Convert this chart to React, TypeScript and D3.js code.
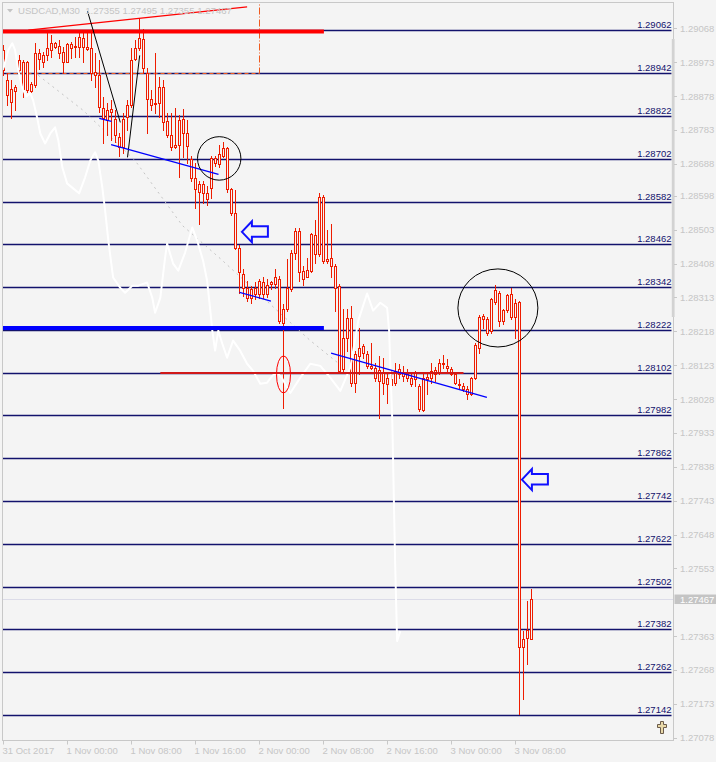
import { useEffect, useRef } from "react";
import * as d3 from "d3";

// OHLC of USDCAD M30, bar 0 = 31 Oct 16:00
const opens = [
  1.29006, 1.28922, 1.2886, 1.28891, 1.2895, 1.28973, 1.28973, 1.28891, 1.28908, 1.28998,
  1.28973, 1.28992, 1.29006, 1.29026, 1.29018, 1.29001, 1.28973, 1.29023, 1.29018, 1.29015,
  1.2904, 1.29015, 1.29012, 1.28945, 1.28936, 1.28844, 1.2881, 1.28841, 1.28813, 1.28762,
  1.28734, 1.28818, 1.28852, 1.28981, 1.29012, 1.29037, 1.28942, 1.28869, 1.28855, 1.28858,
  1.28903, 1.28807, 1.2877, 1.28734, 1.2874, 1.28813, 1.28773, 1.287, 1.28647, 1.28608,
  1.2863, 1.28605, 1.28619, 1.28703, 1.28686, 1.28711, 1.28731, 1.28616, 1.28549, 1.28453,
  1.2838, 1.2834, 1.28312, 1.2834, 1.28324, 1.28355, 1.28324, 1.28352, 1.28352, 1.28366,
  1.28242, 1.28281, 1.28338, 1.28439, 1.28498, 1.28388, 1.28371, 1.28388, 1.28487, 1.28436,
  1.28594, 1.28414, 1.28425, 1.28402, 1.28346, 1.28113, 1.282, 1.28256, 1.28074, 1.28149,
  1.28177, 1.28155, 1.28121, 1.28116, 1.28079, 1.28102, 1.28071, 1.28085, 1.28074, 1.28113,
  1.28102, 1.28099, 1.28088, 1.28085, 1.28065, 1.27998, 1.28085, 1.28088, 1.28099, 1.28102,
  1.2813, 1.28121, 1.28113, 1.28099, 1.28071, 1.28065, 1.28057, 1.28043, 1.28088, 1.28172,
  1.28253, 1.28253, 1.2822, 1.28301, 1.28326, 1.28248, 1.28279, 1.28324, 1.28259, 1.28301,
  1.27332, 1.2738, 1.27355,
];
const highs = [
  1.2902, 1.28942, 1.28922, 1.28908, 1.28992, 1.28978, 1.28976, 1.28917, 1.29026, 1.29009,
  1.29001, 1.29054, 1.29049, 1.29029, 1.29035, 1.29015, 1.29026, 1.29029, 1.29043, 1.29057,
  1.29054, 1.29054, 1.29063, 1.28998, 1.28978, 1.28874, 1.28858, 1.28866, 1.28838, 1.28773,
  1.2883, 1.28866, 1.29012, 1.29035, 1.29096, 1.29065, 1.28956, 1.28894, 1.28998, 1.28931,
  1.28922, 1.2883, 1.2883, 1.28844, 1.28824, 1.28841, 1.2881, 1.28711, 1.28689, 1.28641,
  1.28641, 1.28627, 1.28711, 1.28711, 1.2874, 1.28748, 1.28734, 1.28619, 1.28613, 1.28459,
  1.28394, 1.2836, 1.28346, 1.28355, 1.28366, 1.28369, 1.28366, 1.2836, 1.28394, 1.28374,
  1.28296, 1.28422, 1.28445, 1.28509, 1.28509, 1.28402, 1.28425, 1.28495, 1.28529, 1.28605,
  1.28599, 1.28501, 1.2852, 1.28408, 1.28352, 1.28281, 1.28281, 1.2829, 1.28163, 1.28228,
  1.28183, 1.28163, 1.28186, 1.2813, 1.28149, 1.28144, 1.28102, 1.28107, 1.2813, 1.28127,
  1.28121, 1.28113, 1.28102, 1.28107, 1.28071, 1.28102, 1.28102, 1.2813, 1.28119, 1.28141,
  1.28152, 1.28141, 1.28119, 1.28102, 1.28085, 1.28074, 1.28065, 1.2809, 1.28186, 1.28265,
  1.28267, 1.28259, 1.28312, 1.28349, 1.28332, 1.28281, 1.28324, 1.2834, 1.2831, 1.28304,
  1.27377, 1.27461, 1.27495,
];
const lows = [
  1.28936, 1.28852, 1.28815, 1.28838, 1.28936, 1.28874, 1.28889, 1.28889, 1.28903, 1.28953,
  1.28959, 1.28978, 1.28987, 1.29012, 1.28984, 1.28942, 1.28973, 1.28984, 1.28987, 1.28987,
  1.28973, 1.29006, 1.28922, 1.28903, 1.28832, 1.28745, 1.28768, 1.28754, 1.28748, 1.28709,
  1.28717, 1.28782, 1.28846, 1.28978, 1.29006, 1.28942, 1.28773, 1.28838, 1.2883, 1.28818,
  1.28782, 1.28762, 1.28726, 1.28731, 1.2865, 1.28706, 1.28689, 1.28641, 1.28565, 1.2852,
  1.28579, 1.28571, 1.28591, 1.28683, 1.28678, 1.28706, 1.28608, 1.28543, 1.2845, 1.28326,
  1.28318, 1.28304, 1.28298, 1.2831, 1.28312, 1.28312, 1.28315, 1.28338, 1.2834, 1.28242,
  1.28003, 1.28276, 1.28332, 1.28422, 1.2836, 1.28349, 1.28369, 1.28383, 1.28411, 1.2843,
  1.28411, 1.28411, 1.28369, 1.28276, 1.28102, 1.28107, 1.28163, 1.28065, 1.28048, 1.28099,
  1.28144, 1.28116, 1.28113, 1.28079, 1.27975, 1.28043, 1.28017, 1.28037, 1.28068, 1.28088,
  1.28079, 1.28079, 1.28065, 1.28065, 1.27995, 1.27995, 1.28043, 1.28074, 1.28079, 1.28099,
  1.28116, 1.28107, 1.28096, 1.28071, 1.2806, 1.28051, 1.28029, 1.2804, 1.28085, 1.28158,
  1.28228, 1.28209, 1.28214, 1.28296, 1.28234, 1.28239, 1.28273, 1.28253, 1.282, 1.27144,
  1.27186, 1.27284, 1.27355,
];
const closes = [
  1.2895, 1.2888, 1.28897, 1.28903, 1.28978, 1.28897, 1.28894, 1.28911, 1.28998, 1.28981,
  1.28992, 1.29012, 1.29026, 1.29015, 1.28998, 1.28973, 1.29023, 1.29012, 1.29015, 1.29043,
  1.29015, 1.29009, 1.28942, 1.28936, 1.28846, 1.28815, 1.28838, 1.28832, 1.28768, 1.28734,
  1.28813, 1.28852, 1.28978, 1.29012, 1.2904, 1.28956, 1.28869, 1.28852, 1.28858, 1.28903,
  1.28804, 1.2877, 1.28734, 1.28742, 1.2881, 1.28773, 1.28737, 1.28647, 1.28616, 1.2863,
  1.28605, 1.28588, 1.28703, 1.28689, 1.28714, 1.28731, 1.28616, 1.28549, 1.28453, 1.28383,
  1.2834, 1.28312, 1.28338, 1.28324, 1.2836, 1.28324, 1.28349, 1.28355, 1.28369, 1.28248,
  1.28281, 1.2834, 1.28439, 1.28498, 1.28385, 1.28366, 1.28391, 1.28492, 1.28436, 1.28594,
  1.28416, 1.28422, 1.28402, 1.2834, 1.28107, 1.282, 1.28256, 1.28074, 1.28155, 1.28172,
  1.28158, 1.28121, 1.28116, 1.28088, 1.2811, 1.28074, 1.28088, 1.28068, 1.28107, 1.28099,
  1.28093, 1.28088, 1.28071, 1.28102, 1.28, 1.28088, 1.2809, 1.28107, 1.2811, 1.2813,
  1.28127, 1.28116, 1.28099, 1.28074, 1.28068, 1.28057, 1.28043, 1.28088, 1.2818, 1.28259,
  1.28262, 1.28214, 1.2831, 1.28335, 1.28248, 1.28279, 1.28321, 1.28259, 1.28298, 1.27332,
  1.27354, 1.27357, 1.27467,
];

const infoText = "USDCAD,M30  1.27355 1.27495 1.27355 1.27467";
const currentPrice = 1.27467;

const timeLabels = [
  "31 Oct 2017", "1 Nov 00:00", "1 Nov 08:00", "1 Nov 16:00", "2 Nov 00:00",
  "2 Nov 08:00", "2 Nov 16:00", "3 Nov 00:00", "3 Nov 08:00",
];
const timeLabelBars = [0, 16, 32, 48, 64, 80, 96, 112, 128];

const priceTicks = [
  1.29068, 1.28973, 1.28878, 1.28783, 1.28688, 1.28598, 1.28503, 1.28408, 1.28313, 1.28218,
  1.28123, 1.28028, 1.27933, 1.27838, 1.27743, 1.27648, 1.27553, 1.27363, 1.27268, 1.27173,
  1.27078,
];

// horizontal levels drawn on the chart
const levels = [
  1.29062, 1.28942, 1.28822, 1.28702, 1.28582, 1.28462, 1.28342, 1.28222, 1.28102, 1.27982,
  1.27862, 1.27742, 1.27622, 1.27502, 1.27382, 1.27262, 1.27142,
];

// white indicator line (bar, value)
const whiteBars = [
  0, 1.2, 2.2, 2.9, 3.7, 4.7, 5.7, 6.7, 7.4, 8.4, 9.2, 10.4, 11.7, 12.9, 13.7, 14.7, 15.9, 17.4,
  18.9, 20.4, 21.7, 22.9, 23.7, 24.7, 25.4, 26.2, 27.4, 29.2, 30.4, 32.2, 33.7, 35.9, 37.2, 37.9,
  39.2, 40.4, 40.9, 42.4, 43.7, 45.4, 47.2, 48.4, 49.9, 50.9, 51.7, 52.2, 52.9, 53.7, 54.7, 55.9,
  57.4, 59.2, 60.9, 62.4, 64.2, 65.9, 67.2, 68.4, 69.7, 71.7, 74.2, 76.7, 79.2, 81.7, 84.2, 86.7,
  88.7, 90.9, 92.4, 94.2, 95.9, 96.4, 97.2, 97.9, 98.4, 99.2,
];
const whiteValues = [
  1.28956, 1.29007, 1.29026, 1.29007, 1.2895, 1.289, 1.28877, 1.28886, 1.28866, 1.28818,
  1.28773, 1.28745, 1.28773, 1.2879, 1.28754, 1.28678, 1.28633, 1.28619, 1.28605, 1.2865,
  1.28697, 1.2872, 1.28697, 1.28622, 1.28557, 1.28473, 1.28369, 1.2834, 1.28326, 1.28346,
  1.28346, 1.28355, 1.28312, 1.2827, 1.28312, 1.28425, 1.28464, 1.28408, 1.28388, 1.28439,
  1.28509, 1.28473, 1.28416, 1.2836, 1.28276, 1.2822, 1.28164, 1.2822, 1.28183, 1.28144,
  1.28192, 1.28163, 1.28127, 1.28107, 1.28071, 1.28074, 1.28093, 1.28102, 1.28085, 1.28045,
  1.28088, 1.28127, 1.28121, 1.28088, 1.28051, 1.28116, 1.28248, 1.28324, 1.28276, 1.28298,
  1.28284, 1.2822, 1.27967, 1.27573, 1.27349, 1.27377,
];

// gray dotted line (bar, value)
const grayBars = [8.7, 19.9, 32.9, 44.7, 54.2, 70.4, 76.7, 84.2];
const grayValues = [1.28936, 1.28838, 1.28697, 1.28515, 1.28422, 1.28256, 1.28192, 1.28124];

// trend lines: [bar1, price1, bar2, price2]
const redTrend = [[6.2, 1.29063, 60.9, 1.29128]];
const blackTrends = [
  [21, 1.29116, 29.2, 1.28804],
  [31, 1.28706, 34.05, 1.28992],
];
const blueTrends = [
  [23.95, 1.28815, 27, 1.28807],
  [26.9, 1.28742, 53.75, 1.28658],
  [59, 1.28327, 66.85, 1.28303],
  [81.9, 1.28157, 120.85, 1.28033],
];
// horizontal segments: [bar1, bar2, price]
const thickRed = [-1, 80.1, 1.29059];
const thickBlue = [-1, 80.1, 1.28227];
const darkRed = [39.2, 115, 1.28101];
const orangeBox = [-1, 63.9, 1.2916, 1.28942];
// ellipses: [bar1, bar2, price1, price2]
const redEllipse = [68.25, 71.75, 1.28149, 1.28045];
const blackCircles = [
  [48.5, 59.35, 1.28764, 1.28642],
  [113.6, 133.6, 1.28393, 1.28174],
];
// arrow tips: [bar, price]
const arrows = [
  [59.6, 1.28497],
  [129.6, 1.27802],
];

const BG = "#f4f4f4";
const RED = "#ee1c00";
const NAVY = "#12126c";
const AXIS_TXT = "#c6c6c6";
const FONT = "'Liberation Sans', Arial, sans-serif";

export default function App() {
  const svgRef = useRef<SVGSVGElement>(null);

  useEffect(() => {
    if (!svgRef.current) return;
    const svg = d3.select(svgRef.current);
    svg.selectAll("*").remove();

    const plot = { left: 2.5, top: 2.5, right: 673.5, bottom: 740.5 };
    const x = d3.scaleLinear().domain([0, 132]).range([3.5, 531.5]);
    const y = d3.scaleLinear().domain([1.27078, 1.29068]).range([737.7, 28.3]);
    const snap = (v: number) => Math.round(v) + 0.5;

    svg.append("rect").attr("width", 716).attr("height", 762).attr("fill", BG);

    svg
      .append("defs")
      .append("clipPath")
      .attr("id", "plotClip")
      .append("rect")
      .attr("x", plot.left)
      .attr("y", plot.top)
      .attr("width", plot.right - plot.left)
      .attr("height", plot.bottom - plot.top);

    const g = svg.append("g").attr("clip-path", "url(#plotClip)");

    // current price line
    g.append("line")
      .attr("x1", plot.left)
      .attr("x2", plot.right)
      .attr("y1", snap(y(currentPrice)))
      .attr("y2", snap(y(currentPrice)))
      .attr("stroke", "#dcdce8")
      .attr("stroke-width", 1);

    // horizontal levels
    g.selectAll("line.level")
      .data(levels)
      .join("line")
      .attr("class", "level")
      .attr("x1", plot.left)
      .attr("x2", 671.5)
      .attr("y1", (d) => snap(y(d)))
      .attr("y2", (d) => snap(y(d)))
      .attr("stroke", NAVY)
      .attr("stroke-width", 1.4);

    g.selectAll("text.level")
      .data(levels)
      .join("text")
      .attr("class", "level")
      .attr("x", 671.5)
      .attr("y", (d) => snap(y(d)) - 2.5)
      .attr("text-anchor", "end")
      .attr("font-family", FONT)
      .attr("font-size", "9.5px")
      .attr("fill", NAVY)
      .text((d) => d.toFixed(5));

    // orange dashed box edges
    const [ob1, ob2, op1, op2] = orangeBox;
    g.append("line")
      .attr("x1", x(ob1))
      .attr("x2", snap(x(ob2)))
      .attr("y1", snap(y(op2)))
      .attr("y2", snap(y(op2)))
      .attr("stroke", "#f05a1e")
      .attr("stroke-width", 1.2)
      .attr("stroke-dasharray", "4,3");
    g.append("line")
      .attr("x1", snap(x(ob2)))
      .attr("x2", snap(x(ob2)))
      .attr("y1", y(op1))
      .attr("y2", snap(y(op2)))
      .attr("stroke", "#f05a1e")
      .attr("stroke-width", 1)
      .attr("stroke-dasharray", "7,2,1,2");

    // gray dotted line
    const grayLine = d3
      .line<number>()
      .x((_, i) => x(grayBars[i]))
      .y((d) => y(d));
    g.append("path")
      .attr("d", grayLine(grayValues))
      .attr("fill", "none")
      .attr("stroke", "#c4c4c4")
      .attr("stroke-width", 1)
      .attr("stroke-dasharray", "2,4");

    // candles
    const bars = d3.range(opens.length);
    const candles = g.append("g").attr("shape-rendering", "crispEdges");
    candles
      .selectAll("line")
      .data(bars)
      .join("line")
      .attr("x1", (i) => x(i))
      .attr("x2", (i) => x(i))
      .attr("y1", (i) => Math.round(y(highs[i])))
      .attr("y2", (i) => Math.round(y(lows[i])) + 1)
      .attr("stroke", RED)
      .attr("stroke-width", 1);
    candles
      .selectAll("path")
      .data(bars)
      .join("path")
      .attr("d", (i) => {
        const cx = x(i);
        const t = snap(y(Math.max(opens[i], closes[i])));
        const b = snap(y(Math.min(opens[i], closes[i])));
        return `M${cx - 1},${t}H${cx + 1}V${b}H${cx - 1}Z`;
      })
      .attr("fill", BG)
      .attr("stroke", RED)
      .attr("stroke-width", 1);

    // white indicator
    const whiteLine = d3
      .line<number>()
      .x((_, i) => x(whiteBars[i]))
      .y((d) => y(d));
    g.append("path")
      .attr("d", whiteLine(whiteValues))
      .attr("fill", "none")
      .attr("stroke", "#ffffff")
      .attr("stroke-width", 2)
      .attr("stroke-linejoin", "round");

    // horizontal segments
    const seg = (s: number[], color: string, w: number) =>
      g
        .append("line")
        .attr("x1", x(s[0]))
        .attr("x2", x(s[1]))
        .attr("y1", y(s[2]))
        .attr("y2", y(s[2]))
        .attr("stroke", color)
        .attr("stroke-width", w);
    seg(thickRed, "#ff0000", 4);
    seg(thickBlue, "#0000ff", 4);
    seg(darkRed, "#d01818", 2);

    // trend lines
    const trend = (data: number[][], color: string, w: number) =>
      g
        .append("g")
        .selectAll("line")
        .data(data)
        .join("line")
        .attr("x1", (d) => x(d[0]))
        .attr("y1", (d) => y(d[1]))
        .attr("x2", (d) => x(d[2]))
        .attr("y2", (d) => y(d[3]))
        .attr("stroke", color)
        .attr("stroke-width", w);
    trend(redTrend, "#ff0000", 1.3);
    trend(blackTrends, "#000000", 1);
    trend(blueTrends, "#0000ff", 1.3);

    // ellipses
    const ell = (e: number[], color: string) =>
      g
        .append("ellipse")
        .attr("cx", (x(e[0]) + x(e[1])) / 2)
        .attr("cy", (y(e[2]) + y(e[3])) / 2)
        .attr("rx", Math.abs(x(e[1]) - x(e[0])) / 2)
        .attr("ry", Math.abs(y(e[3]) - y(e[2])) / 2)
        .attr("fill", "none")
        .attr("stroke", color)
        .attr("stroke-width", 1);
    ell(redEllipse, "#ff0000");
    blackCircles.forEach((c) => ell(c, "#000000"));

    // arrows (fixed size icons)
    const arrowShape = "M0,0L10,-10.5L10,-5.5L26,-5.5L26,5L10,5L10,10.5Z";
    g.selectAll("path.arrow")
      .data(arrows)
      .join("path")
      .attr("class", "arrow")
      .attr("d", arrowShape)
      .attr("transform", (d) => `translate(${x(d[0])},${y(d[1])})`)
      .attr("fill", "none")
      .attr("stroke", "#1010ff")
      .attr("stroke-width", 2)
      .attr("stroke-linejoin", "miter");

    // frame
    svg
      .append("path")
      .attr(
        "d",
        `M${plot.left},${plot.bottom}V${plot.top}H${plot.right}V${plot.bottom}H${plot.left}`
      )
      .attr("fill", "none")
      .attr("stroke", "#c8c8c8")
      .attr("stroke-width", 1)
      .attr("shape-rendering", "crispEdges");

    // scale marker on the price axis
    svg
      .append("rect")
      .attr("x", 671.8)
      .attr("y", 39)
      .attr("width", 2.8)
      .attr("height", 278)
      .attr("fill", "#d2d2d2");

    // price axis
    svg
      .append("g")
      .selectAll("line")
      .data(priceTicks)
      .join("line")
      .attr("x1", 674)
      .attr("x2", 677)
      .attr("y1", (d) => snap(y(d)))
      .attr("y2", (d) => snap(y(d)))
      .attr("stroke", "#c8c8c8");
    svg
      .append("g")
      .selectAll("text")
      .data(priceTicks)
      .join("text")
      .attr("x", 680)
      .attr("y", (d) => y(d) + 3.5)
      .attr("font-family", FONT)
      .attr("font-size", "9.5px")
      .attr("fill", AXIS_TXT)
      .text((d) => d.toFixed(5));

    // current price box
    svg
      .append("rect")
      .attr("x", 674.5)
      .attr("y", y(currentPrice) - 4.5)
      .attr("width", 42)
      .attr("height", 9.5)
      .attr("fill", "#c4c4c4");
    svg
      .append("text")
      .attr("x", 680)
      .attr("y", y(currentPrice) + 3.6)
      .attr("font-family", FONT)
      .attr("font-size", "9.5px")
      .attr("fill", "#ffffff")
      .text(currentPrice.toFixed(5));

    // time axis
    svg
      .append("g")
      .selectAll("line")
      .data(timeLabelBars)
      .join("line")
      .attr("x1", (d) => x(d))
      .attr("x2", (d) => x(d))
      .attr("y1", plot.bottom)
      .attr("y2", plot.bottom + 4)
      .attr("stroke", "#c8c8c8");
    svg
      .append("g")
      .selectAll("text")
      .data(timeLabelBars)
      .join("text")
      .attr("x", (d) => x(d) - 1)
      .attr("y", 754)
      .attr("font-family", FONT)
      .attr("font-size", "9.5px")
      .attr("fill", AXIS_TXT)
      .text((_, i) => timeLabels[i]);

    // chart info
    svg
      .append("path")
      .attr("d", "M7,9L13,9L10,12.5Z")
      .attr("fill", "#c4c4c4");
    svg
      .append("text")
      .attr("x", 18)
      .attr("y", 14)
      .attr("font-family", FONT)
      .attr("font-size", "9.6px")
      .attr("fill", "#c4c4c4")
      .attr("xml:space", "preserve")
      .style("white-space", "pre")
      .text(infoText);

    // shift marker icon
    svg
      .append("path")
      .attr(
        "d",
        "M660.5,721.5H663.5V724.5H666.5V727.5H663.5V733.5H660.5V727.5H657.5V724.5H660.5Z"
      )
      .attr("fill", "#e8d8a8")
      .attr("stroke", "#6a5a4a")
      .attr("stroke-width", 1);
  }, []);

  return (
    <svg
      ref={svgRef}
      width={716}
      height={762}
      style={{ position: "absolute", left: 0, top: 0, display: "block" }}
    />
  );
}
